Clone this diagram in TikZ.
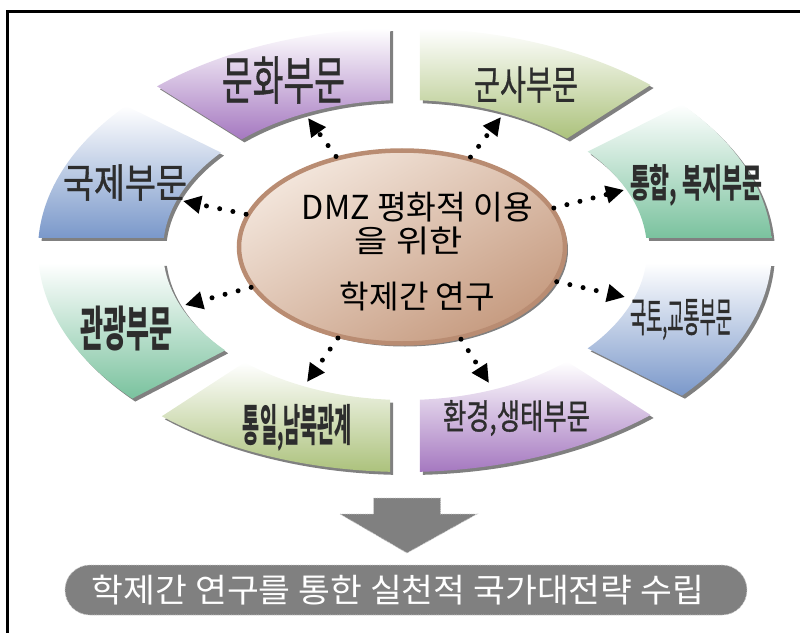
\documentclass[tikz,border=0pt]{standalone}
\usepackage{fontspec}
\usepackage{graphicx}
\setmainfont{Noto Sans CJK KR}
\newfontfamily\labfont[FakeBold=1]{Noto Sans CJK KR}
\usetikzlibrary{shapes.geometric,shadows,arrows.meta}
\definecolor{cPur}{RGB}{165,120,192}
\definecolor{cOli}{RGB}{172,194,124}
\definecolor{cTeal}{RGB}{122,194,158}
\definecolor{cBlue}{RGB}{122,152,202}
\definecolor{labTxt}{RGB}{45,45,45}
\definecolor{shd}{RGB}{128,128,128}
\definecolor{ellLight}{RGB}{243,230,220}
\definecolor{ellDark}{RGB}{198,155,128}
\definecolor{ellLine}{RGB}{185,140,114}
\definecolor{bandGray}{RGB}{128,128,128}
\definecolor{bandEdge}{RGB}{205,205,205}
% #1 target width, #2 font size, #3 text
\newcommand{\fitw}[3]{{\fontsize{#2}{#2}\selectfont\resizebox{#1}{\height}{#3}}}
\newcommand{\ringseg}[5]{%
  \path[ringstyle, bottom color=#5]
    (#1:367pt and 222pt) arc[start angle=#1, end angle=#2, x radius=367pt, y radius=222pt]
    -- (#3:242pt and 150pt) arc[start angle=#3, end angle=#4, x radius=242pt, y radius=150pt]
    -- cycle;}
\begin{document}
\begin{tikzpicture}[x=1pt,y=1pt,
  ringstyle/.style={top color=white, drop shadow={shadow xshift=3pt, shadow yshift=-3pt, fill=shd, opacity=1}},
  lab/.style={text=labTxt, inner sep=0pt, font=\labfont},
  labb/.style={text=labTxt, inner sep=0pt, font=\bfseries},
  ctext/.style={text=black, inner sep=0pt},
  dotarrow/.style={line width=5pt, line cap=round, dash pattern=on 0pt off 13.5pt, -{Triangle[length=18pt,width=17pt]}}
]
\useasboundingbox (-405,-382) rectangle (395,250);
% frame (top and left edges visible)
\draw[line width=3pt, line join=miter] (420,238.5) -- (-397.5,238.5) -- (-397.5,-400);

% ring segments
\ringseg{92.34}{132.5}{132.5}{93.55}{cPur}      % culture
\ringseg{139.5}{176.9}{175.41}{139.5}{cBlue}   % international
\ringseg{183.36}{222}{222}{184.97}{cTeal}      % tourism
\ringseg{228.5}{267.66}{266.45}{228.5}{cOli}   % unification
\ringseg{272.34}{312}{312}{273.55}{cPur}       % environment
\ringseg{319}{356.64}{355.03}{319}{cBlue}      % land/transport
\ringseg{3.1}{41}{41}{4.59}{cTeal}             % integration/welfare
\ringseg{48}{87.66}{86.45}{48}{cOli}           % military

% labels
\node[lab]  (lMun)    at (-121.5,170)    {\fitw{123pt}{52pt}{문화부문}};
\node[lab]  (lGun)    at (121,165.5)     {\fitw{104pt}{40pt}{군사부문}};
\node[labb] (lTong)   at (291,65)        {\fitw{132pt}{39pt}{통합, 복지부문}};
\node[lab]  (lGukto)  at (276,-69.5)     {\fitw{102pt}{41pt}{국토,교통부문}};
\node[lab]  (lHwan)   at (111.5,-168)    {\fitw{147pt}{35pt}{환경,생태부문}};
\node[labb] (lTongil) at (-107.5,-177.5) {\fitw{109pt}{44pt}{통일,남북관계}};
\node[labb] (lGwan)   at (-278.5,-79)    {\fitw{92pt}{48pt}{관광부문}};
\node[lab]  (lGuk)    at (-280,67.5)     {\fitw{124pt}{40pt}{국제부문}};

% central ellipse
\node[ellipse, draw=ellLine, line width=4.5pt, minimum width=326pt, minimum height=193pt, inner sep=0pt,
      top color=ellLight, bottom color=ellDark, shading angle=30,
      drop shadow={shadow xshift=3pt, shadow yshift=-3pt, fill=shd, opacity=1}] (c) at (-3,3) {};
\node[ctext] (c1) at (12.5,43)  {\fitw{231pt}{33pt}{DMZ 평화적 이용}};
\node[ctext] (c2) at (4,9.5)    {\fitw{108pt}{31pt}{을 위한}};
\node[ctext] (c3) at (12.5,-46) {\fitw{155pt}{32pt}{학제간 연구}};

% arrow tips
\coordinate (aMun) at (-97,132);
\coordinate (aGuk) at (-222,49);
\coordinate (aGwan) at (-220,-55);
\coordinate (aTongil) at (-98,-132);
\coordinate (aHwan) at (84,-133);
\coordinate (aGukto) at (220,-47);
\coordinate (aTong) at (219,60);
\coordinate (aGun) at (96,133);
\foreach \t in {aMun,aGuk,aGwan,aTongil,aHwan,aGukto,aTong,aGun}
  \draw[dotarrow] (c) -- (\t);

% big down arrow
\path[fill=bandGray, draw=bandEdge, densely dotted, line width=0.8pt]
  (-31.5,-248) -- (35.5,-248) -- (35.5,-264) -- (72,-264) -- (2,-303) -- (-65,-264) -- (-31.5,-264) -- cycle;

% result banner
\node[fill=bandGray, draw=bandEdge, densely dotted, line width=0.8pt, rounded corners=25pt,
      minimum width=682pt, minimum height=50pt, inner sep=0pt] (goal) at (1,-340) {};
\node[text=white, inner sep=0pt] (goalTxt) at (-7,-340)
  {\fitw{612pt}{33pt}{학제간 연구를 통한 실천적 국가대전략 수립}};
\end{tikzpicture}
\end{document}
